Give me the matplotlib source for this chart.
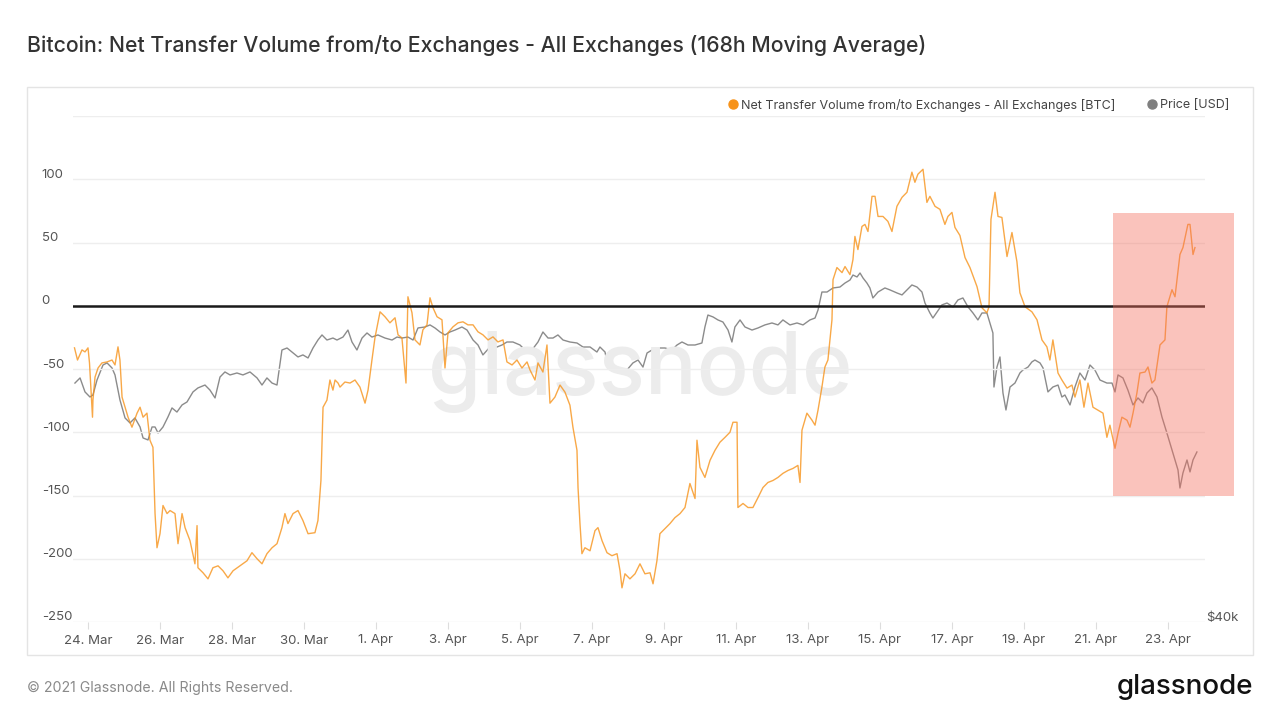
import matplotlib
matplotlib.use("Agg")
import matplotlib.pyplot as plt
import matplotlib.transforms as mtransforms
from matplotlib.lines import Line2D
from matplotlib.patches import Rectangle
import pandas as pd
import numpy as np

plt.rcParams['font.family'] = ['Inter', 'DejaVu Sans']

BASE = pd.Timestamp('2021-03-24 00:00')

# Net transfer volume (BTC), hours after 24 Mar 00:00
ntv_hours = [-9, -7, -4, -2, 0, 1, 3, 3.3, 4.7, 6.7, 9.3, 12.7, 16, 18, 20, 21.3, 22.7, 24.7, 26.7, 29.3,
             32.7, 34.7, 36.7, 39.3, 41.3, 43.3, 44.7, 46, 48, 50, 52.7, 54.7, 58, 60, 62.7, 64.7, 68, 71.3,
             72.7, 73.3, 76.7, 80, 83.3, 86.7, 90, 93.3, 96.7, 101.3, 106, 109.3, 112.7, 116, 119.3, 122.7,
             126, 129.3, 131.3, 133.3, 136.7, 140, 143.3, 146.7, 151.3, 153.3, 155.3, 156.7, 159.3, 161.3,
             163.3, 164.7, 166.7, 168, 171.3, 174.7, 178, 181.3, 184.7, 186.7, 189.3, 191.3, 194.7, 198,
             201.3, 204.7, 206.7, 209.3, 212, 213.3, 216, 218, 221.3, 223.3, 226, 228, 230, 232.7, 236, 238,
             240, 243.3, 246.7, 250, 253.3, 256.7, 260, 263.3, 266.7, 270, 273.3, 276.7, 279.3, 282.7, 286,
             289.3, 292.7, 294.7, 298, 300, 303.3, 306, 308, 311.3, 314.7, 318, 321.3, 323.3, 326, 326.7,
             328, 329.3, 331.3, 334.7, 338, 340, 342.7, 346, 349.3, 352.7, 354.7, 356, 358, 361.3, 364.7,
             368, 371.3, 374.7, 376.7, 379.3, 381.3, 384.7, 388, 391.3, 394.7, 398, 401.3, 404.7, 406, 408,
             411.3, 414.7, 418, 421.3, 424.7, 428, 430, 432.7, 433.3, 436.7, 440, 443.3, 446.7, 450, 453.3,
             456.7, 460, 463.3, 466.7, 470, 473.3, 474.7, 476, 479.3, 482.7, 484.7, 486.7, 489.3, 491.3,
             493.3, 496, 496.7, 499.3, 502.7, 504.7, 508, 510, 511.3, 513.3, 516, 518, 520, 522.7, 524.7,
             526.7, 530, 533.3, 536, 539.3, 542.7, 546, 549.3, 551.3, 553.3, 556.7, 559.3, 561.3, 564.7,
             568, 571.3, 573.3, 576, 578, 581.3, 584.7, 588, 592.7, 596, 599.3, 600.7, 602, 604.7, 606.7,
             609.3, 612.7, 616, 619.3, 621.3, 624.7, 629.3, 632.7, 636, 639.3, 641.3, 643.3, 646.7, 649.3,
             652.7, 656, 658, 661.3, 664, 666.7, 670, 673.3, 676.7, 679.3, 681.3, 684.7, 686.7, 689.3,
             692.7, 694.7, 696.7, 699.3, 701.3, 704.7, 706.7, 709.3, 711.3, 714.7, 718, 719.3, 722.7,
             724.7, 728, 730, 733.3, 734.7, 736.7, 738]
ntv_values = [-33.3, -42.9, -34.9, -36.5, -33.3, -45.2, -88.1, -74.6, -56.3, -49.2, -45.2, -44.4, -42.9,
              -46.8, -32.5, -42.9, -72.2, -80.2, -88.1, -96.0, -84.9, -80.2, -88.1, -84.9, -106.3, -111.9,
              -164.3, -191.3, -180.2, -157.9, -164.3, -161.9, -164.3, -188.1, -164.3, -175.4, -185.7,
              -204.0, -173.8, -207.1, -211.1, -215.9, -207.1, -205.6, -209.5, -215.1, -209.5, -205.6,
              -201.6, -195.2, -200.0, -204.0, -196.0, -191.3, -188.1, -175.4, -164.3, -172.2, -164.3,
              -161.9, -169.8, -180.2, -179.4, -169.8, -138.1, -80.2, -74.6, -58.7, -66.7, -58.7, -61.1,
              -64.3, -60.3, -61.1, -58.7, -64.3, -77.0, -66.7, -42.9, -25.4, -4.8, -8.7, -13.5, -9.5,
              -23.0, -25.4, -61.1, 7.1, -5.6, -27.0, -31.0, -19.0, -15.1, 6.3, -1.6, -8.7, -11.1, -49.2,
              -21.4, -16.7, -13.5, -12.7, -15.1, -15.1, -20.6, -23.0, -27.0, -24.6, -28.6, -27.0, -44.4,
              -46.8, -42.9, -49.2, -44.4, -50.8, -58.7, -45.2, -52.4, -31.0, -77.0, -72.2, -62.7, -68.3,
              -78.6, -96.0, -114.3, -143.7, -172.2, -196.0, -191.3, -193.7, -177.8, -175.4, -185.7,
              -195.2, -197.6, -196.0, -209.5, -223.0, -211.9, -215.9, -211.9, -204.0, -211.9, -211.1,
              -219.8, -201.6, -180.2, -176.2, -172.2, -167.5, -164.3, -159.5, -140.5, -152.4, -106.3,
              -127.8, -135.7, -122.2, -114.3, -107.9, -104.0, -100.0, -92.1, -92.1, -159.5, -156.3,
              -159.5, -159.5, -151.6, -143.7, -139.7, -138.1, -135.7, -132.5, -130.2, -128.6, -126.2,
              -139.7, -98.4, -84.9, -90.5, -94.4, -82.5, -64.3, -48.4, -42.9, -11.1, 20.6, 30.2, 26.2,
              31.0, 24.6, 36.5, 54.8, 44.4, 62.7, 64.3, 58.7, 86.5, 86.5, 70.6, 70.6, 66.7, 58.7, 78.6,
              85.7, 89.7, 105.6, 97.6, 104.0, 107.9, 81.7, 86.5, 78.6, 76.2, 64.3, 70.6, 73.8, 61.9, 55.6,
              38.1, 30.2, 15.1, -1.6, -5.6, -0.8, 68.3, 89.7, 70.6, 69.8, 38.9, 57.9, 34.9, 10.3, -0.8,
              -4.8, -11.1, -27.0, -32.5, -42.9, -27.0, -53.2, -58.7, -65.1, -62.7, -72.2, -58.7, -80.2,
              -61.1, -80.2, -82.5, -84.9, -104.0, -94.4, -112.7, -100.8, -88.1, -90.5, -96.0, -84.9,
              -69.0, -53.2, -52.4, -48.4, -61.1, -58.7, -31.0, -27.0, -0.8, 12.7, 7.1, 40.5, 46.0, 64.3,
              64.3, 40.5, 46.0]

# Price (USD), hours after 24 Mar 00:00
price_hours = [-8.7, -5.3, -2, 1.3, 3.3, 6, 10, 12.7, 16, 18, 21.3, 24.7, 28, 31.3, 34.7, 36.7, 40, 42.7,
               44.7, 46.7, 50, 53.3, 56, 59.3, 62.7, 66, 70, 73.3, 78, 81.3, 84.7, 88, 91.3, 94.7, 99.3,
               103.3, 108, 112.7, 116, 119.3, 122.7, 126, 129.3, 132.7, 136, 140, 143.3, 146.7, 150, 153.3,
               156, 159.3, 163.3, 166, 170, 173.3, 176, 179.3, 182.7, 186, 189.3, 193.3, 198, 202.7, 206,
               209.3, 213.3, 216.7, 220, 224.7, 228, 231.3, 234.7, 238, 241.3, 244.7, 249.3, 252.7, 256.7,
               260, 263.3, 268, 272.7, 276, 279.3, 283.3, 288, 292.7, 296, 300, 303.3, 306.7, 310, 313.3,
               316.7, 321.3, 326, 330, 334.7, 339.3, 341.3, 344.7, 346.7, 350, 354.7, 359.3, 363.3, 366.7,
               370, 372.7, 376, 380, 384.7, 389.3, 392.7, 396, 400, 404.7, 409.3, 411.3, 413.3, 416.7, 420,
               423.3, 426.7, 429.3, 431.3, 434.7, 438, 442.7, 446.7, 451.3, 456, 460, 463.3, 468, 472.7,
               476.7, 481.3, 484.7, 486.7, 489.3, 492.7, 496.7, 501.3, 504.7, 508, 510, 512.7, 514.7,
               516.7, 519.3, 521.3, 523.3, 526.7, 531.3, 534.7, 539.3, 542.7, 546, 549.3, 552.7, 556, 558,
               561.3, 563.3, 566, 569.3, 572.7, 576.7, 580, 583.3, 586.7, 590, 593.3, 596, 599.3, 601.3,
               603.3, 604, 606, 608, 610, 612, 614.7, 618, 621.3, 623.3, 626.7, 629.3, 631.3, 634.7, 636.7,
               640, 643.3, 646.7, 649.3, 651.3, 654.7, 658, 661.3, 664.7, 668, 671.3, 674.7, 679.3, 682.7,
               684.7, 686.7, 690, 693.3, 696.7, 700, 703.3, 706, 709.3, 712.7, 716, 719.3, 722.7, 724.7,
               726.7, 728, 730, 732.7, 734.7, 736.7, 739.3]
price_values = [55490, 55880, 54820, 54440, 54590, 55720, 56880, 57040, 56650, 56110, 54220, 52900, 52540,
                52900, 52250, 51470, 51330, 52250, 52250, 51820, 52250, 52970, 53630, 53330, 53850, 54070,
                54820, 55120, 55340, 54960, 54370, 55950, 56340, 56110, 56260, 56110, 56340, 55880, 55340,
                55880, 55490, 55340, 58060, 58220, 57900, 57510, 57670, 57430, 58220, 58860, 59270, 58860,
                59020, 58860, 59100, 59670, 58700, 58060, 59020, 59430, 59100, 59270, 59020, 58860, 59100,
                59020, 59100, 58860, 59840, 59920, 60090, 59840, 59510, 59270, 59510, 59670, 59920, 59670,
                58860, 58460, 57670, 58300, 58300, 58460, 58700, 58700, 58460, 57900, 58060, 58700, 59510,
                59020, 59020, 59270, 58860, 58700, 58620, 58300, 58300, 57900, 58300, 57900, 56720, 56650,
                56260, 56490, 57040, 57270, 56720, 57820, 58060, 58220, 58220, 58060, 58460, 58700, 58460,
                58460, 58620, 59920, 60910, 60750, 60500, 60330, 59670, 58700, 59920, 60500, 59920, 59670,
                59840, 60090, 60250, 60090, 60500, 60090, 60250, 60090, 60500, 60660, 61330, 62860, 62860,
                63210, 63290, 63640, 63900, 64340, 64170, 64520, 64080, 63640, 63210, 62350, 62860, 63210,
                63040, 62780, 62610, 63040, 63470, 63290, 62860, 61920, 61080, 60660, 61160, 61760, 61920,
                61590, 62180, 62350, 61590, 61080, 60500, 61080, 61080, 60250, 59430, 55190, 56720, 57510,
                54740, 53480, 55190, 55490, 56260, 56490, 56720, 57120, 57270, 57040, 56650, 54820, 55190,
                55340, 54440, 54590, 53850, 55190, 56260, 55720, 56880, 56490, 55720, 55490, 55490, 54820,
                56110, 55880, 54960, 53850, 54370, 54000, 54740, 55120, 54440, 52970, 51820, 50630, 49940,
                49260, 48060, 49060, 49940, 49130, 49940, 50490]

y_ticks = [-250, -200, -150, -100, -50, 0, 50, 100, 150]
y_labels = ['-250', '-200', '-150', '-100', '-50', '0', '50', '100', '']
x_tick_dates = pd.date_range('2021-03-24', periods=16, freq='2D')
x_tick_labels = [f"{d.day}. {d.strftime('%b')}" for d in x_tick_dates]

# highlight region (data coords)
hl_start = pd.Timestamp('2021-04-21 11:20')
hl_end = pd.Timestamp('2021-04-24 20:00')
hl_low, hl_high = -150, 73

ORANGE = '#f7931a'
GRAY = '#7f7f7f'

fig = plt.figure(figsize=(12.8, 7.2), dpi=100)
fig.patch.set_facecolor('white')

# panel border
fig.patches.append(Rectangle((27/1280, 1-655/720), (1253-27)/1280, (655-87)/720,
                             transform=fig.transFigure, fill=False, edgecolor='#e4e4e4', lw=1.0))

ax = fig.add_axes([73/1280, 1-622/720, (1205-73)/1280, (622-116)/720])
ax.set_facecolor('none')

t_ntv = BASE + pd.to_timedelta(ntv_hours, unit='h')
t_price = BASE + pd.to_timedelta(price_hours, unit='h')

ax.plot(t_ntv, ntv_values, color=ORANGE, lw=1.0, alpha=0.8, zorder=2)
ax.axhline(0, color='#1a1a1a', lw=1.8, zorder=3)

xmin = BASE + pd.Timedelta(hours=-10)
xmax = BASE + pd.Timedelta(hours=744.7)
ax.set_xlim(xmin, xmax)
ax.set_ylim(-250, 150)
ax.set_yticks(y_ticks)
ax.set_yticklabels(y_labels)
ax.set_xticks(x_tick_dates)
ax.set_xticklabels(x_tick_labels)
ax.grid(axis='y', color='#eeeeee', lw=1.0, zorder=0)
for s in ax.spines.values():
    s.set_visible(False)
ax.tick_params(axis='y', length=0, pad=22.5, labelsize=9.5, labelcolor='#555555')
for lab in ax.get_yticklabels():
    lab.set_horizontalalignment('left')
    lab.set_transform(lab.get_transform() + mtransforms.ScaledTranslation(0, 6/100, fig.dpi_scale_trans))
ax.tick_params(axis='x', length=5, width=0.8, color='#dddddd', pad=4, labelsize=9.5, labelcolor='#555555')

ax2 = ax.twinx()
ax2.set_yscale('log')
ax2.plot(t_price, price_values, color=GRAY, lw=1.0, alpha=0.9, zorder=2)
ax2.set_ylim(40000, 80000)
ax2.set_xlim(xmin, xmax)
ax2.yaxis.set_major_locator(matplotlib.ticker.FixedLocator([40000]))
ax2.yaxis.set_minor_locator(matplotlib.ticker.NullLocator())
ax2.set_yticklabels(['$40k'])
for s in ax2.spines.values():
    s.set_visible(False)
ax2.tick_params(axis='y', length=0, pad=0.5, labelsize=9.5, labelcolor='#555555')
for lab in ax2.get_yticklabels():
    lab.set_transform(lab.get_transform() + mtransforms.ScaledTranslation(0, 6/100, fig.dpi_scale_trans))

# highlight rectangle
x0 = matplotlib.dates.date2num(hl_start)
x1 = matplotlib.dates.date2num(hl_end)
ax.add_patch(Rectangle((x0, hl_low), x1 - x0, hl_high - hl_low, facecolor=(0.96, 0.43, 0.37),
                       alpha=0.41, edgecolor='none', zorder=5, clip_on=False))
ax.set_zorder(ax2.get_zorder() + 1)

# watermark
fig.text(640/1280, 1-372/720, 'glassnode', ha='center', va='center', fontsize=62, fontweight='medium',
         color='#ececec', zorder=0)

# title & footer
fig.text(27/1280, 1-46/720, 'Bitcoin: Net Transfer Volume from/to Exchanges - All Exchanges (168h Moving Average)',
         ha='left', va='center', fontsize=15.3, fontweight='medium', color='#333333')
fig.text(27/1280, 1-688/720, '\u00a9 2021 Glassnode. All Rights Reserved.', ha='left', va='center',
         fontsize=10.2, color='#8a8a8a')
fig.text(1253/1280, 1-687/720, 'glassnode', ha='right', va='center', fontsize=20, fontweight='medium',
         color='#111111')

# legend
handles = [Line2D([], [], marker='o', ls='none', color=ORANGE, markersize=6.5),
           Line2D([], [], marker='o', ls='none', color=GRAY, markersize=6.5)]
fig.legend(handles, ['Net Transfer Volume from/to Exchanges - All Exchanges [BTC]', 'Price [USD]'],
           ncol=2, loc='center right', bbox_to_anchor=(1236/1280, 1-105/720), frameon=False,
           fontsize=9.0, handlelength=0.7, handletextpad=0.3, columnspacing=2.6, borderpad=0,
           labelcolor='#444444')

fig.savefig('out.png', dpi=100, facecolor='white')
